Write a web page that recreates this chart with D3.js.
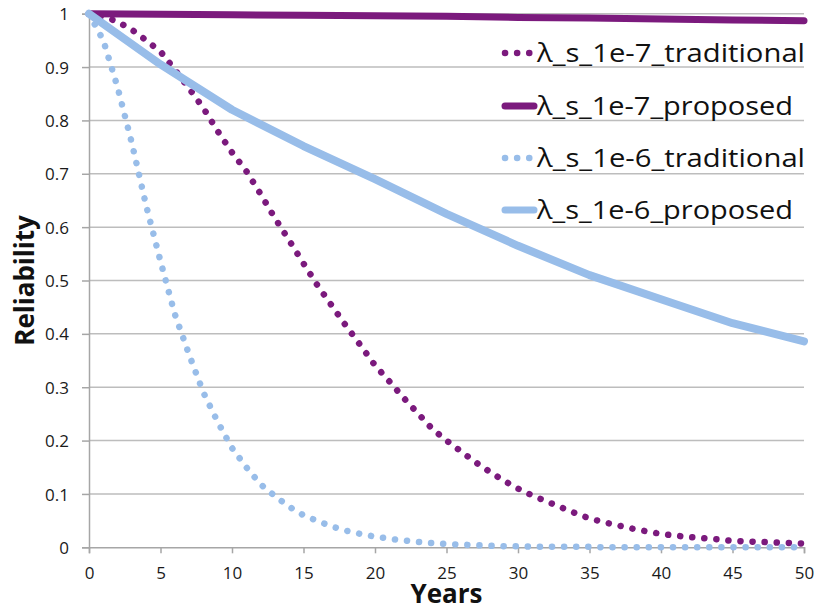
<!DOCTYPE html>
<html>
<head>
<meta charset="utf-8">
<script src="https://cdn.jsdelivr.net/npm/d3@7"></script>
<style>
  body { margin: 0; background: #fff; }
  svg { display: block; }
</style>
</head>
<body>
<div id="viz"></div>
<script>
// values
const years = d3.range(0, 51);
const years5 = [0, 5, 10, 15, 20, 25, 30, 35, 40, 45, 50];

const trad7 = [1, 0.995, 0.985, 0.97, 0.95, 0.929, 0.895, 0.86, 0.823, 0.78, 0.74,
  0.705, 0.662, 0.617, 0.575, 0.532, 0.49, 0.452, 0.414, 0.378, 0.341,
  0.311, 0.28, 0.251, 0.222, 0.2, 0.18, 0.16, 0.142, 0.125, 0.11,
  0.097, 0.086, 0.075, 0.064, 0.054, 0.047, 0.041, 0.035, 0.03, 0.025,
  0.022, 0.019, 0.017, 0.015, 0.012, 0.011, 0.01, 0.009, 0.008, 0.007];
const prop7 = [1, 0.999, 0.998, 0.997, 0.996, 0.995, 0.993, 0.992, 0.99, 0.988, 0.987];
const trad6 = [1, 0.95, 0.862, 0.757, 0.64, 0.536, 0.437, 0.361, 0.29, 0.235, 0.186,
  0.15, 0.118, 0.096, 0.076, 0.06, 0.049, 0.039, 0.031, 0.025, 0.02,
  0.016, 0.013, 0.01, 0.008, 0.006, 0.005, 0.004, 0.003, 0.002, 0.002,
  0.001, 0.001, 0.001, 0.001, 0.001, 0, 0, 0, 0, 0,
  0, 0, 0, 0, 0, 0, 0, 0, 0, 0];
const prop6 = [1, 0.905, 0.82, 0.752, 0.69, 0.625, 0.565, 0.51, 0.465, 0.42, 0.386];

const seriesNames = ["λ_s_1e-7_traditional", "λ_s_1e-7_proposed", "λ_s_1e-6_traditional", "λ_s_1e-6_proposed"];
const yTicks = [0, 0.1, 0.2, 0.3, 0.4, 0.5, 0.6, 0.7, 0.8, 0.9, 1];
const xTicks = [0, 5, 10, 15, 20, 25, 30, 35, 40, 45, 50];

const purple = "#7b1a7d";
const blue = "#98bde9";

const series = [
  { name: seriesNames[0], x: years, y: trad7, color: purple, dotted: true },
  { name: seriesNames[1], x: years5, y: prop7, color: purple, dotted: false },
  { name: seriesNames[2], x: years, y: trad6, color: blue, dotted: true },
  { name: seriesNames[3], x: years5, y: prop6, color: blue, dotted: false }
];

const margin = {top: 13.7, right: 13, bottom: 62.7, left: 89},
  width = 817 - margin.left - margin.right,
  height = 610 - margin.top - margin.bottom;

const svg = d3.select("#viz")
  .append("svg")
    .attr("width", 817)
    .attr("height", 610)
  .append("g")
    .attr("transform", "translate(" + margin.left + "," + margin.top + ")");

const x = d3.scaleLinear().domain([0, 50]).range([0, width]);
const y = d3.scaleLinear().domain([0, 1]).range([height, 0]);

// horizontal grid
svg.append("g")
  .selectAll("line")
  .data(yTicks.filter(d => d > 0))
  .enter()
  .append("line")
    .attr("x1", 0)
    .attr("x2", width)
    .attr("y1", d => y(d))
    .attr("y2", d => y(d))
    .attr("stroke", "#bdbdbd")
    .attr("stroke-width", 1.5);

// axes
const yAxis = svg.append("g")
  .call(d3.axisLeft(y).tickValues(yTicks).tickSize(7).tickPadding(13)
    .tickFormat(d => d3.format("~g")(d)));
const xAxis = svg.append("g")
  .attr("transform", "translate(0," + height + ")")
  .call(d3.axisBottom(x).tickValues(xTicks).tickSize(6).tickPadding(14));

[yAxis, xAxis].forEach(a => {
  a.select(".domain").attr("stroke", "#a6a6a6").attr("stroke-width", 1.5);
  a.selectAll(".tick line").attr("stroke", "#a6a6a6").attr("stroke-width", 1.5);
  a.selectAll(".tick text")
    .attr("fill", "#1a1a1a")
    .style("font-family", "'Open Sans', sans-serif")
    .style("font-size", "17px");
});
yAxis.selectAll(".tick text").attr("dy", "0.36em");
xAxis.selectAll(".tick text").attr("dy", "0.68em");

// lines
const line = d3.line()
  .x(d => x(d[0]))
  .y(d => y(d[1]));

svg.append("g")
  .selectAll("path")
  .data(series)
  .enter()
  .append("path")
    .attr("d", s => line(s.x.map((v, i) => [v, s.y[i]])))
    .attr("fill", "none")
    .attr("stroke", s => s.color)
    .attr("stroke-width", s => s.dotted ? 6.5 : (s.color === blue ? 8 : 7))
    .attr("stroke-linecap", "round")
    .attr("stroke-linejoin", "round")
    .attr("stroke-dasharray", s => s.dotted ? "0.1 12" : null);

// legend
const legendRows = [53, 106, 158, 210];
const legendWidths = [268, 256, 268, 256];
const legend = svg.append("g")
  .selectAll("g")
  .data(series)
  .enter()
  .append("g")
    .attr("transform", (d, i) => "translate(" + (502 - margin.left) + "," + (legendRows[i] - margin.top) + ")");

legend.append("line")
  .attr("x1", 3)
  .attr("x2", 32)
  .attr("stroke", d => d.color)
  .attr("stroke-width", d => d.dotted ? 6.5 : 7)
  .attr("stroke-linecap", "round")
  .attr("stroke-dasharray", d => d.dotted ? "0.1 12" : null);

legend.append("text")
  .attr("x", 35)
  .attr("dy", "0.36em")
  .attr("textLength", (d, i) => legendWidths[i])
  .attr("lengthAdjust", "spacingAndGlyphs")
  .style("font-family", "'Open Sans', sans-serif")
  .style("font-size", "26px")
  .attr("fill", "#111")
  .text(d => d.name);

// axis titles
svg.append("text")
  .attr("x", width / 2)
  .attr("y", 603 - margin.top)
  .attr("text-anchor", "middle")
  .style("font-family", "'Open Sans', sans-serif")
  .style("font-weight", "bold")
  .style("font-size", "26px")
  .attr("fill", "#111")
  .text("Years");

svg.append("text")
  .attr("transform", "translate(" + (34 - margin.left) + "," + (height / 2) + ") rotate(-90)")
  .attr("text-anchor", "middle")
  .style("font-family", "'Open Sans', sans-serif")
  .style("font-weight", "bold")
  .style("font-size", "26px")
  .attr("fill", "#111")
  .text("Reliability");
</script>
</body>
</html>
